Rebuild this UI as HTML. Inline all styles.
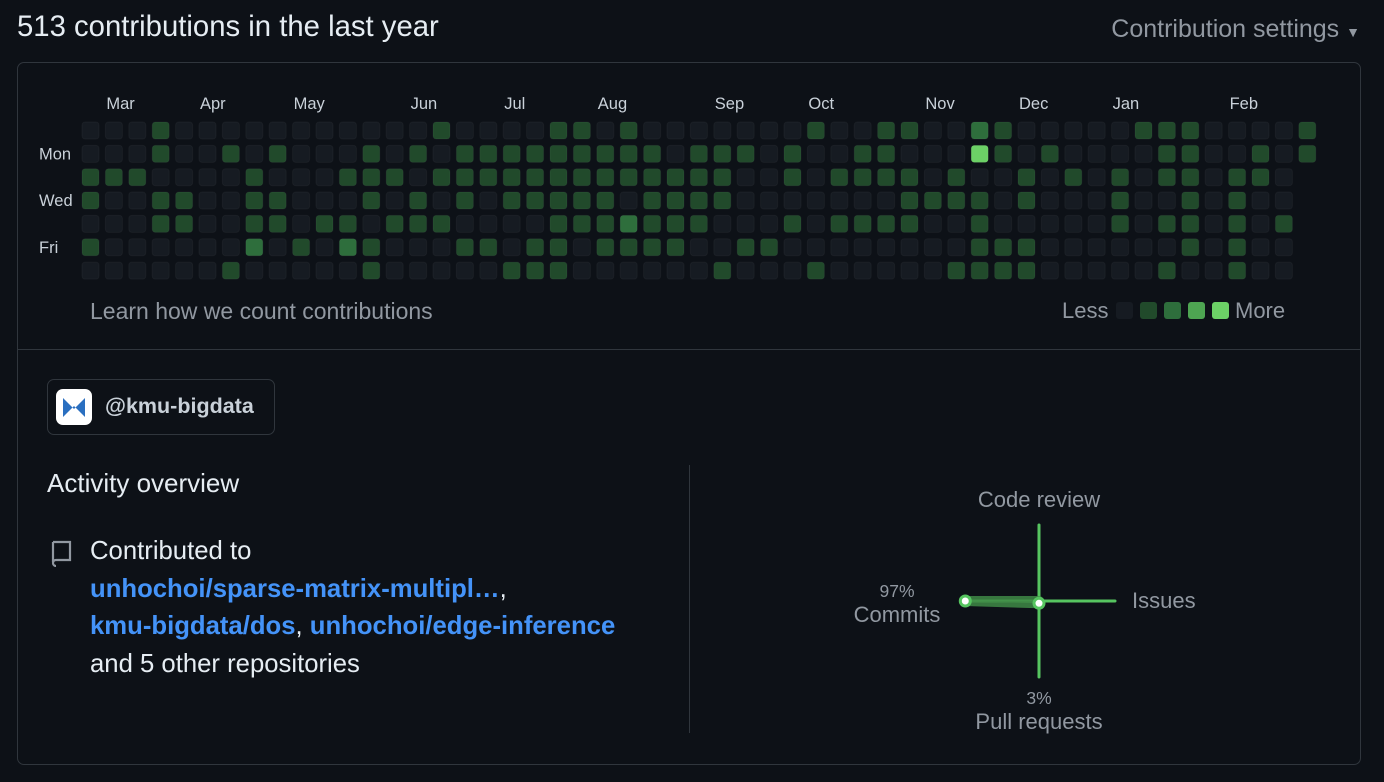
<!DOCTYPE html>
<html><head><meta charset="utf-8"><style>
body{margin:0;background:#0d1117;width:1384px;height:782px;overflow:hidden;font-family:"Liberation Sans",sans-serif;color:#e6edf3;position:relative}
.abs{position:absolute;white-space:nowrap}
a{color:#4493f8;text-decoration:none;font-weight:bold}
</style></head><body>
<div class="abs" style="left:17px;top:10px;font-size:29.3px;">513 contributions in the last year</div>
<div class="abs" style="right:24px;top:15px;font-size:25px;color:#9198a1">Contribution settings <span style="font-size:14px">▼</span></div>
<div class="abs" style="left:17px;top:62px;width:1342px;height:701px;border:1px solid #30363d;border-radius:7px"></div>
<div class="abs" style="left:18px;top:349px;width:1342px;height:1px;background:#30363d"></div>
<svg id="grid" class="abs" style="left:0;top:0" width="1384" height="340"></svg>
<div class="abs" style="left:90px;top:298px;font-size:23px;color:#9198a1">Learn how we count contributions</div>
<div class="abs" style="left:1062px;top:298px;font-size:22px;color:#9198a1">Less</div>
<div class="abs" style="left:1235px;top:298px;font-size:22px;color:#9198a1">More</div>
<div class="abs" style="left:47px;top:379px;width:226px;height:54px;border:1px solid #30363d;border-radius:7px">
<div style="position:absolute;left:8px;top:9px;width:36px;height:36px;background:#fff;border-radius:7px">
<svg width="36" height="36"><path d="M7 9 L18 20 L29 9 L29 28 L18 17 L7 28 Z" fill="#2a6fc0"/></svg></div>
<div style="position:absolute;left:57px;top:14px;font-size:21.5px;font-weight:bold;color:#c9d1d9">@kmu-bigdata</div></div>
<div class="abs" style="left:47px;top:468px;font-size:26px">Activity overview</div>
<div class="abs" style="left:689px;top:465px;width:1px;height:268px;background:#30363d"></div>
<svg class="abs" style="left:49px;top:539px" width="26" height="28"><path d="M4 3 h17 v18 h-14 a3 3 0 0 0 0 6 M4 3 v20" stroke="#9198a1" stroke-width="2.2" fill="none"/></svg>
<div class="abs" style="left:90px;top:533px;font-size:25.7px;line-height:37.5px">Contributed to<br><a>unhochoi/sparse-matrix-multipl…</a>,<br><a>kmu-bigdata/dos</a>, <a>unhochoi/edge-inference</a><br>and 5 other repositories</div>
<svg id="radar" class="abs" style="left:0;top:0" width="1384" height="782"></svg>
<script>
const levelColors=['#161b22','#214a2b','#2e6e3c','#4ea552','#6cd166'];
const months=['Mar','Apr','May','Jun','Jul','Aug','Sep','Oct','Nov','Dec','Jan','Feb'];
const monthCols=[1,5,9,14,18,22,27,31,36,40,44,49];
const dayLabels=['Mon','Wed','Fri'];
const dayRows=[1,3,5];
const row0=[0,0,0,1,0,0,0,0,0,0,0,0,0,0,0,1,0,0,0,0,1,1,0,1,0,0,0,0,0,0,0,1,0,0,1,1,0,0,2,1,0,0,0,0,0,1,1,1,0,0,0,0,1];
const row1=[0,0,0,1,0,0,1,0,1,0,0,0,1,0,1,0,1,1,1,1,1,1,1,1,1,0,1,1,1,0,1,0,0,1,1,0,0,0,4,1,0,1,0,0,0,0,1,1,0,0,1,0,1];
const row2=[1,1,1,0,0,0,0,1,0,0,0,1,1,1,0,1,1,1,1,1,1,1,1,1,1,1,1,1,0,0,1,0,1,1,1,1,0,1,0,0,1,0,1,0,1,0,1,1,0,1,1,0];
const row3=[1,0,0,1,1,0,0,1,1,0,0,0,1,0,1,0,1,0,1,1,1,1,1,0,1,1,1,1,0,0,0,0,0,0,0,1,1,1,1,0,1,0,0,0,1,0,0,1,0,1,0,0];
const row4=[0,0,0,1,1,0,0,1,1,0,1,1,0,1,1,1,0,0,0,0,1,1,1,2,1,1,1,0,0,0,1,0,1,1,1,1,0,0,1,0,0,0,0,0,1,0,1,1,0,1,0,1];
const row5=[1,0,0,0,0,0,0,2,0,1,0,2,1,0,0,0,1,1,0,1,1,0,1,1,1,1,0,0,1,1,0,0,0,0,0,0,0,0,1,1,1,0,0,0,0,0,0,1,0,1,0,0];
const row6=[0,0,0,0,0,0,1,0,0,0,0,0,1,0,0,0,0,0,1,1,1,0,0,0,0,0,0,1,0,0,0,1,0,0,0,0,0,1,1,1,1,0,0,0,0,0,1,0,0,1,0,0];
const rows=[row0,row1,row2,row3,row4,row5,row6];
const legendLevels=[0,1,2,3,4];
const radarLabels=['Code review','Issues','Pull requests','Commits'];
const radarValues=[0,0,3,97];
const NS='http://www.w3.org/2000/svg';
const g=document.getElementById('grid');
const colX=i=>82+i*23.4, rowY=r=>122+r*23.35;
function mk(p,tag,attrs){const e=document.createElementNS(NS,tag);for(const k in attrs)e.setAttribute(k,attrs[k]);p.appendChild(e);return e;}
months.forEach((m,i)=>{const t=mk(g,'text',{x:colX(monthCols[i])+1,y:109,fill:'#c9d1d9','font-size':16.5,'font-family':'Liberation Sans'});

t.textContent=m;});
dayLabels.forEach((d,i)=>{const t=mk(g,'text',{x:39,y:rowY(dayRows[i])+14,fill:'#c9d1d9','font-size':16.5,'font-family':'Liberation Sans'});

t.textContent=d;});
rows.forEach((row,r)=>row.forEach((v,c)=>{const e=mk(g,'rect',{x:colX(c),y:rowY(r),width:17,height:17,rx:3,fill:levelColors[v],stroke:'rgba(255,255,255,0.04)'});

}));
legendLevels.forEach((l,i)=>{const e=mk(g,'rect',{x:1116+i*24,y:302,width:17,height:17,rx:3,fill:levelColors[l]});

});
const rd=document.getElementById('radar');const cx=1039,cy=601,L=76;
const dirs=[[0,-1],[1,0],[0,1],[-1,0]];
dirs.forEach(d=>{const e=mk(rd,'line',{x1:cx,y1:cy,x2:cx+d[0]*L,y2:cy+d[1]*L,stroke:'#56c560','stroke-width':3,'stroke-linecap':'round'});

});
const pts=radarValues.map((v,i)=>[cx+dirs[i][0]*L*v/100,cy+dirs[i][1]*L*v/100]);
const poly=mk(rd,'polygon',{points:pts.map(p=>p.join(',')).join(' '),fill:'#3f8f45','fill-opacity':0.8,stroke:'#3f8a46','stroke-width':10,'stroke-linejoin':'round','stroke-opacity':0.85});


radarValues.forEach((v,i)=>{if(v>0){const e=mk(rd,'circle',{cx:pts[i][0],cy:pts[i][1],r:5,fill:'#fff',stroke:'#56c560','stroke-width':3});

}});
const labelPos=[[cx,507,'middle'],[1132,608,'start'],[cx,729,'middle'],[897,622,'middle']];
radarLabels.forEach((lb,i)=>{const p=labelPos[i];const t=mk(rd,'text',{x:p[0],y:p[1],'text-anchor':p[2],fill:'#9198a1','font-size':22,'font-family':'Liberation Sans'});

t.textContent=lb;
if(radarValues[i]>0){const pc=mk(rd,'text',{x:p[0],y:p[1]-25,'text-anchor':'middle',fill:'#9198a1','font-size':17.5,'font-family':'Liberation Sans'});

pc.textContent=radarValues[i]+'%';}});
</script>
</body></html>
